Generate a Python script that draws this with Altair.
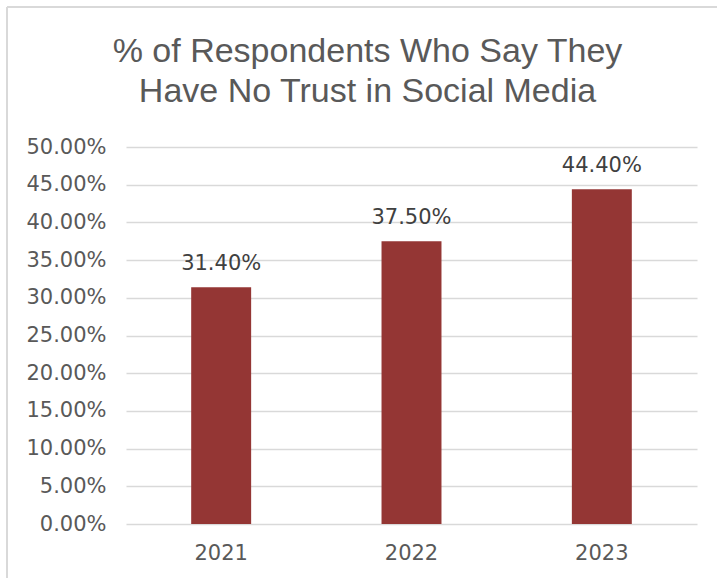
import altair as alt
import pandas as pd

years = ["2021", "2022", "2023"]
values = [0.314, 0.375, 0.444]
y_ticks = [0.0, 0.05, 0.10, 0.15, 0.20, 0.25, 0.30, 0.35, 0.40, 0.45, 0.50]
title_lines = ["% of Respondents Who Say They", "Have No Trust in Social Media"]

df = pd.DataFrame({"year": years, "value": values})

LABEL_FONT = "DejaVu Sans"
BAR_COLOR = "#943634"
GRID_COLOR = "#d9d9d9"

x_enc = alt.X(
    "year:N",
    sort=years,
    scale=alt.Scale(paddingInner=0.685, paddingOuter=0.3425),
    axis=alt.Axis(
        title=None,
        labelAngle=0,
        ticks=False,
        domain=False,
        grid=False,
        labelFont=LABEL_FONT,
        labelFontSize=21,
        labelColor="#595959",
        labelPadding=18,
    ),
)
y_enc = alt.Y(
    "value:Q",
    scale=alt.Scale(domain=[0, 0.5], nice=False),
    axis=alt.Axis(
        title=None,
        values=y_ticks,
        format=".2%",
        ticks=False,
        domain=False,
        grid=True,
        gridColor=GRID_COLOR,
        gridWidth=1.5,
        labelOverlap=False,
        labelFont=LABEL_FONT,
        labelFontSize=21,
        labelColor="#595959",
        labelPadding=20,
    ),
)

base = alt.Chart(df)

bars = base.mark_bar(color=BAR_COLOR).encode(x=x_enc, y=y_enc)

labels = base.mark_text(
    font=LABEL_FONT,
    fontSize=21,
    color="#404040",
    baseline="alphabetic",
    dy=-17,
).encode(
    x=x_enc,
    y=y_enc,
    text=alt.Text("value:Q", format=".2%"),
)

frame_left = alt.Chart(df).mark_rule(color=GRID_COLOR, strokeWidth=1.5).encode(
    x=alt.value(-119), y=alt.value(-140), y2=alt.value(460)
)
frame_top = alt.Chart(df).mark_rule(color=GRID_COLOR, strokeWidth=1.5).encode(
    x=alt.value(-119), x2=alt.value(620), y=alt.value(-140)
)

chart = (
    alt.layer(frame_left, frame_top, bars, labels)
    .properties(
        width=571,
        height=377,
        background="white",
        autosize=alt.AutoSizeParams(type="none"),
        padding={"left": 126, "top": 147, "right": 20, "bottom": 54},
        title=alt.TitleParams(
            text=title_lines,
            font="Liberation Sans",
            fontSize=34,
            fontWeight="normal",
            color="#595959",
            anchor="middle",
            dx=-44,
            lineHeight=40,
            offset=-103,
        ),
    )
    .configure_view(strokeWidth=0, stroke="transparent")
)

chart.save("out.html", embed_options={"renderer": "svg", "actions": False})
